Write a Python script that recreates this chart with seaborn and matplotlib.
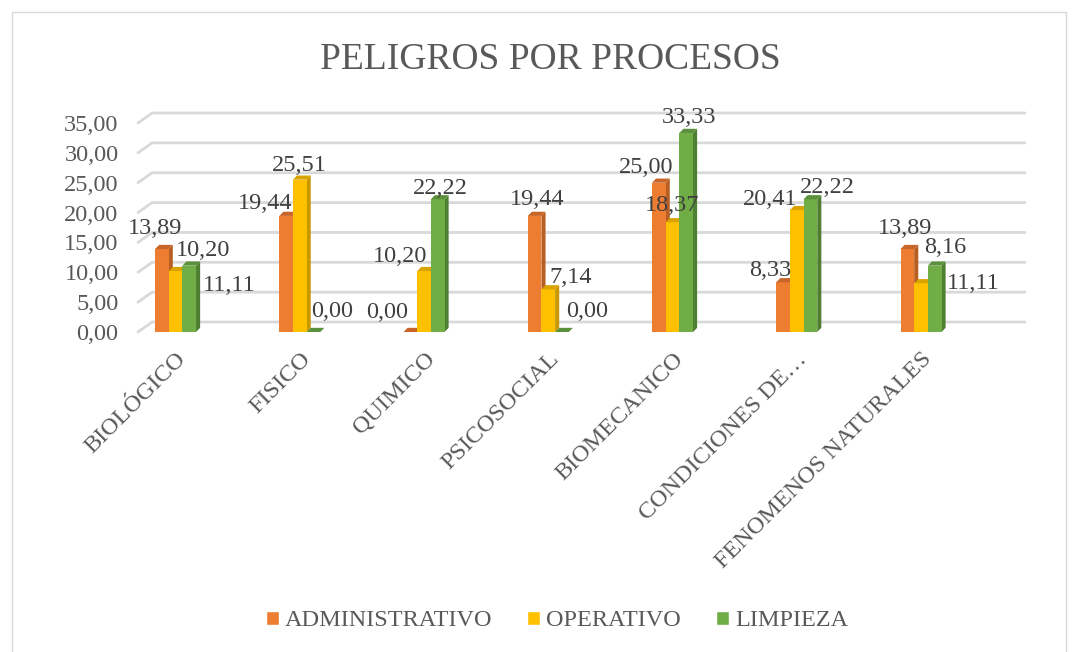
import matplotlib
matplotlib.use("Agg")
import matplotlib.pyplot as plt
import matplotlib.transforms as mtransforms
from matplotlib.patches import Polygon, Rectangle
import pandas as pd
import seaborn as sns

# data
categories = ["BIOLÓGICO", "FISICO", "QUIMICO", "PSICOSOCIAL", "BIOMECANICO",
              "CONDICIONES DE…", "FENOMENOS NATURALES"]
series = ["ADMINISTRATIVO", "OPERATIVO", "LIMPIEZA"]
administrativo = [13.89, 19.44, 0.00, 19.44, 25.00, 8.33, 13.89]
operativo = [10.20, 25.51, 10.20, 7.14, 18.37, 20.41, 8.16]
limpieza = [11.11, 0.00, 22.22, 0.00, 33.33, 22.22, 11.11]
yticks = [0, 5, 10, 15, 20, 25, 30, 35]

# where Excel put each data label, relative to the bar top (pixels, up = +)
label_offsets = [
    [(-7, 21), (-21, 12), (-23, 19), (3, 16), (-13, 15), (-13, 12), (-2, 21)],
    [(28, 21), (0, 14), (-24, 15), (22, 12), (0, 17), (-27, 11), (24, 36)],
    [(40, -20), (19, 20), (3, 11), (25, 20), (3, 15), (17, 12), (39, -18)],
]

colors = ["#ED7D31", "#FFC000", "#70AD47"]
side_colors = ["#B85E22", "#C99700", "#4F7F32"]
top_colors = ["#C8662A", "#D9A300", "#5B913A"]
text_col = "#595959"
fs = 17.5

rows = []
for s, vals in zip(series, [administrativo, operativo, limpieza]):
    for c, v in zip(categories, vals):
        rows.append({"cat": c, "serie": s, "val": v})
df = pd.DataFrame(rows)

sns.set_style("white")
plt.rcParams["font.family"] = ["Liberation Serif", "DejaVu Serif"]

fig = plt.figure(figsize=(10.77, 6.52), dpi=100)
ax = fig.add_axes([120 / 1077, 1 - 332 / 652, (1025 - 120) / 1077, 209 / 652])

sns.barplot(data=df, x="cat", y="val", hue="serie", palette=colors,
            saturation=1, width=0.33, ax=ax, legend=True)

ax.set_xlim(-0.447, 6.837)
ax.set_ylim(0, 35)
dx, dy = 0.033, 0.7

# fake 3D gridlines (slanted start, then back wall)
for t in yticks:
    ax.plot([-0.302, -0.189, 6.837], [t, t + 1.67, t + 1.67], color="#D9D9D9",
            lw=2, zorder=1, clip_on=False)

# add depth faces to the bars
for i, cont in enumerate(ax.containers):
    for p in cont.patches:
        p.set_zorder(3 + 2 * i)
        p.set_edgecolor("none")
        x0, w, h = p.get_x(), p.get_width(), p.get_height()
        side = Polygon([(x0 + w, 0), (x0 + w + dx, dy), (x0 + w + dx, h + dy), (x0 + w, h)],
                       closed=True, facecolor=side_colors[i], edgecolor="none",
                       zorder=2.5 + 2 * i, clip_on=False)
        top = Polygon([(x0, h), (x0 + dx, h + dy), (x0 + w + dx, h + dy), (x0 + w, h)],
                      closed=True, facecolor=top_colors[i], edgecolor="none",
                      zorder=3.5 + 2 * i, clip_on=False)
        ax.add_patch(side)
        ax.add_patch(top)

# data labels
for i, cont in enumerate(ax.containers):
    for j, p in enumerate(cont.patches):
        h = p.get_height()
        ax.annotate(f"{h:.2f}".replace(".", ","),
                    (p.get_x() + p.get_width() / 2, h),
                    xytext=label_offsets[i][j], textcoords="offset pixels",
                    ha="center", va="center", fontsize=fs, color="#404040",
                    zorder=20, annotation_clip=False)

ax.set_yticks(yticks)
ax.set_yticklabels([f"{t:.2f}".replace(".", ",") for t in yticks],
                   fontsize=fs, color=text_col)
ax.set_xticks(range(len(categories)))
ax.set_xticklabels(categories, rotation=45, ha="right", va="top",
                   rotation_mode="anchor", fontsize=fs, color=text_col)
shift = mtransforms.ScaledTranslation(-7 / 100, 0, fig.dpi_scale_trans)
for lab in ax.get_xticklabels():
    lab.set_transform(lab.get_transform() + shift)
ax.tick_params(axis="y", length=0, pad=1)
ax.tick_params(axis="x", length=0, pad=12)
ax.set_xlabel("")
ax.set_ylabel("")
for s in ax.spines.values():
    s.set_visible(False)
ax.set_facecolor("none")

handles, labels = ax.get_legend_handles_labels()
ax.get_legend().remove()
fig.legend(handles, labels, loc="center", bbox_to_anchor=(557 / 1077, 1 - 621 / 652),
           ncol=3, frameon=False, fontsize=fs, handlelength=0.53, handleheight=0.53,
           handletextpad=0.25, columnspacing=1.45, labelcolor=text_col)

fig.text(550 / 1077, 1 - 60 / 652, "PELIGROS POR PROCESOS", ha="center", va="center",
         fontsize=27, color=text_col)

fig.patches.append(Rectangle((12 / 1077, -0.01), (1066 - 12) / 1077, 1 - 12 / 652 + 0.01,
                             transform=fig.transFigure, fill=False,
                             edgecolor="#D9D9D9", lw=1))

fig.savefig("out.png", dpi=100)
